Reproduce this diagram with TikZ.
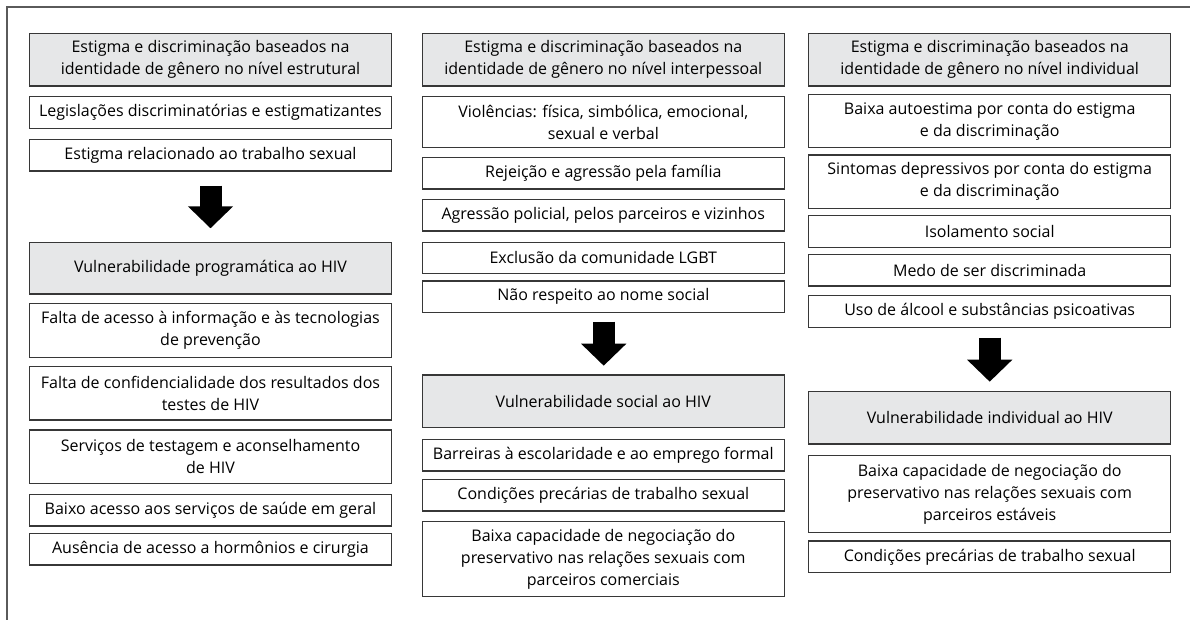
\documentclass[tikz,border=0pt]{standalone}
\usepackage{fontspec}
\setmainfont{Open Sans}
\usetikzlibrary{arrows.meta}
\definecolor{hdrfill}{RGB}{230,231,232}
\definecolor{boxline}{RGB}{55,55,55}
\definecolor{framecol}{RGB}{90,90,90}
\tikzset{
  itembox/.style={draw=boxline, line width=1.2pt, fill=white, inner sep=0pt, align=center,
    minimum width=362pt, font=\fontsize{16}{22}\selectfont},
  hdrbox/.style={itembox, fill=hdrfill},
  bigarrow/.style={line width=22pt, draw=black, -{Triangle[width=44pt,length=22pt]}},
}
\begin{document}
\begin{tikzpicture}[x=1pt,y=-1pt]
\useasboundingbox (0,0) rectangle (1190,620);
\draw[framecol, line width=1.4pt] (7,620) -- (7,7) -- (1190,7);

% column 1
\node[hdrbox, minimum height=52.7pt] (h1) at (210.5,59.7) {Estigma e discriminação baseados na\\identidade de gênero no nível estrutural};
\node[itembox, minimum height=31.6pt] (a1) at (210.5,112.5) {Legislações discriminatórias e estigmatizantes};
\node[itembox, minimum height=31.6pt] (a2) at (210.5,155.2) {Estigma relacionado ao trabalho sexual};
\node[hdrbox, minimum height=51.7pt] (v1) at (210.5,268.2) {Vulnerabilidade programática ao HIV};
\node[itembox, minimum height=54pt] (b1) at (210.5,330.3) {Falta de acesso à informação e às tecnologias\\de prevenção};
\node[itembox, minimum height=53.3pt] (b2) at (210.5,393.3) {Falta de confidencialidade dos resultados dos\\testes de HIV};
\node[itembox, minimum height=53.3pt] (b3) at (210.5,456.7) {Serviços de testagem e aconselhamento\\de HIV};
\node[itembox, minimum height=31.6pt] (b4) at (210.5,510.2) {Baixo acesso aos serviços de saúde em geral};
\node[itembox, minimum height=31.6pt] (b5) at (210.5,549.2) {Ausência de acesso a hormônios e cirurgia};
\coordinate (ar1s) at (210.5,185.7);
\coordinate (ar1e) at (210.5,228.3);
\draw[bigarrow] (ar1s) -- (ar1e);

% column 2
\node[hdrbox, minimum height=52.7pt] (h2) at (603.3,59.7) {Estigma e discriminação baseados na\\identidade de gênero no nível interpessoal};
\node[itembox, minimum height=51pt] (c1) at (603.3,122.2) {Violências: física, simbólica, emocional,\\sexual e verbal};
\node[itembox, minimum height=31.6pt] (c2) at (603.3,173.2) {Rejeição e agressão pela família};
\node[itembox, minimum height=31.6pt] (c3) at (603.3,215.2) {Agressão policial, pelos parceiros e vizinhos};
\node[itembox, minimum height=31pt] (c4) at (603.3,257.8) {Exclusão da comunidade LGBT};
\node[itembox, minimum height=31.6pt] (c5) at (603.3,296.8) {Não respeito ao nome social};
\node[hdrbox, minimum height=52.3pt] (v2) at (603.3,401.2) {Vulnerabilidade social ao HIV};
\node[itembox, minimum height=31.6pt] (d1) at (603.3,455.2) {Barreiras à escolaridade e ao emprego formal};
\node[itembox, minimum height=31.6pt] (d2) at (603.3,495.2) {Condições precárias de trabalho sexual};
\node[itembox, minimum height=75pt] (d3) at (603.3,559.2) {Baixa capacidade de negociação do\\preservativo nas relações sexuais com\\parceiros comerciais};
\coordinate (ar2s) at (603.7,321.7);
\coordinate (ar2e) at (603.7,365.7);
\draw[bigarrow] (ar2s) -- (ar2e);

% column 3
\node[hdrbox, minimum height=52.7pt] (h3) at (989.7,59.7) {Estigma e discriminação baseados na\\identidade de gênero no nível individual};
\node[itembox, minimum height=53.3pt] (e1) at (989.7,121) {Baixa autoestima por conta do estigma\\e da discriminação};
\node[itembox, minimum height=53.3pt] (e2) at (989.7,181.7) {Sintomas depressivos por conta do estigma\\e da discriminação};
\node[itembox, minimum height=31.6pt] (e3) at (989.7,231.5) {Isolamento social};
\node[itembox, minimum height=31.6pt] (e4) at (989.7,270.2) {Medo de ser discriminada};
\node[itembox, minimum height=31.6pt] (e5) at (989.7,311.5) {Uso de álcool e substâncias psicoativas};
\node[hdrbox, minimum height=52.3pt] (v3) at (989.7,417.8) {Vulnerabilidade individual ao HIV};
\node[itembox, minimum height=76.6pt] (f1) at (989.7,494) {Baixa capacidade de negociação do\\preservativo nas relações sexuais com\\parceiros estáveis};
\node[itembox, minimum height=31.6pt] (f2) at (989.7,556.8) {Condições precárias de trabalho sexual};
\coordinate (ar3s) at (989.7,337.7);
\coordinate (ar3e) at (989.7,381.7);
\draw[bigarrow] (ar3s) -- (ar3e);
\end{tikzpicture}
\end{document}
